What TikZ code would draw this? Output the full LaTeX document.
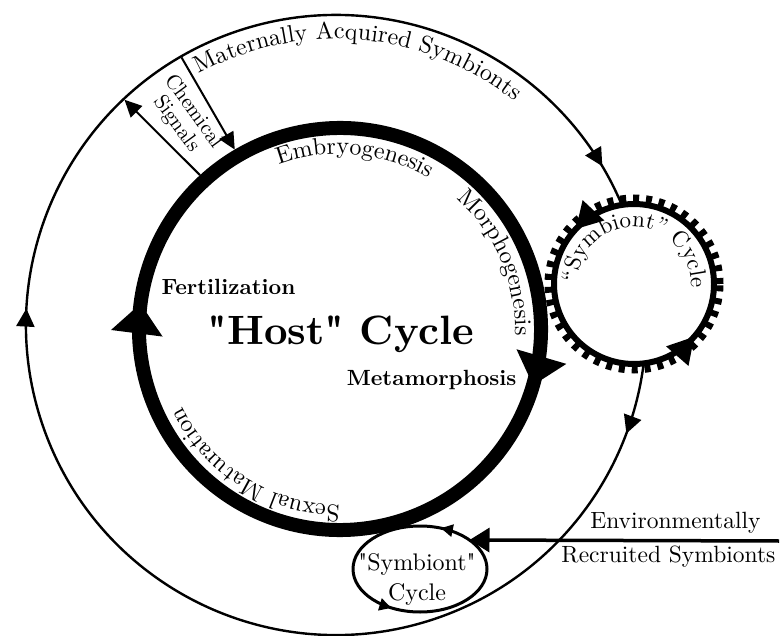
\documentclass[tikz,border=0pt]{standalone}
\usepackage{fontspec}
\setmainfont{lmroman10-regular.otf}[BoldFont=lmroman10-bold.otf, Ligatures=TeXOff]
\usetikzlibrary{arrows.meta,calc,decorations.markings,decorations.text}
\tikzset{
  ring/.style={line width=14pt},
  loopline/.style={line width=2.4pt},
  sigline/.style={line width=2pt},
  hostheads/.style={decoration={markings,
      mark=at position 0.048 with {\arrow{Triangle[length=30pt,width=50pt]}},
      mark=at position 0.573 with {\arrow{Triangle[length=30pt,width=50pt]}}},
    postaction={decorate}},
  loopheads/.style={decoration={markings,
      mark=at position 0.064 with {\arrow{Triangle[length=18pt,width=18pt]}},
      mark=at position 0.470 with {\arrow{Triangle[length=18pt,width=18pt]}},
      mark=at position 0.6125 with {\arrow{Triangle[length=18pt,width=18pt]}}},
    postaction={decorate}},
  symheads/.style={decoration={markings,
      mark=at position 0.38 with {\arrow{Triangle[length=26pt,width=28pt]}},
      mark=at position 0.886 with {\arrow{Triangle[length=26pt,width=28pt]}}},
    postaction={decorate}},
  smallheads/.style={decoration={markings,
      mark=at position 0.19 with {\arrow{Triangle[length=12pt,width=12pt]}},
      mark=at position 0.667 with {\arrow{Triangle[length=12pt,width=12pt]}}},
    postaction={decorate}},
  arctext/.style={decorate, decoration={text along path, text align=center,
      text={|\fontsize{24}{24}\selectfont|#1}}},
}
\begin{document}
\begin{tikzpicture}[x=1pt,y=1pt]
  \useasboundingbox (0,0) rectangle (781,635);
  \coordinate (hc) at (340,306);
  \coordinate (oc) at (336,310);
  \coordinate (sc) at (634,351);
  \coordinate (ec) at (420,66);

  \draw[loopline, loopheads] ($(oc)+(200:310)$) arc[start angle=200, end angle=-160, radius=310];
  \draw[ring, hostheads] ($(hc)+(190:201)$) arc[start angle=190, end angle=-170, radius=201];

  \coordinate (c1h) at ($(hc)+(132.3:208)$);
  \coordinate (c1o) at ($(oc)+(133.2:309)$);
  \coordinate (c2o) at ($(oc)+(120:309)$);
  \coordinate (c2h) at ($(hc)+(120.4:208)$);
  \draw[sigline, -{Triangle[length=17pt,width=16pt]}] (c1h) -- (c1o);
  \draw[sigline, -{Triangle[length=17pt,width=16pt]}] (c2o) -- (c2h);
  \node[rotate=-54, align=center, font=\fontsize{21}{21}\selectfont] (chem) at (185,517) {Chemical\\Signals};

  \filldraw[fill=white, line width=6pt, symheads] ($(sc)+(0:80)$) arc[start angle=0, end angle=360, radius=80];
  \draw[line width=7pt, dash pattern=on 6pt off 7pt] (sc) circle[radius=86];

  \draw[line width=3pt, smallheads] ($(ec)+(0:67 and 43)$) arc[start angle=0, end angle=360, x radius=67, y radius=43];
  \coordinate (envL) at ($(ec)+(49.5,29)$);
  \coordinate (envR) at (779,94);
  \draw[line width=3.5pt, -{Triangle[length=20pt,width=24pt]}] (envR) -- (envL);

  \path[arctext={Maternally Acquired Symbionts}] ($(oc)+(125:286)$) arc[start angle=125, end angle=45, radius=286];
  \path[arctext={Embryogenesis}] ($(hc)+(122:175)$) arc[start angle=122, end angle=48, radius=175];
  \path[arctext={Morphogenesis}] ($(hc)+(60:175)$) arc[start angle=60, end angle=-14, radius=175];
  \path[arctext={Sexual Maturation}] ($(hc)+(285:176)$) arc[start angle=285, end angle=191, radius=176];
  \path[decorate, decoration={text along path, text align=center,
      text={|\fontsize{23}{23}\selectfont|“Symbiont” Cycle}}]
    ($(sc)+(199:57)$) arc[start angle=199, end angle=-25, radius=57];

  \node[font=\fontsize{22}{22}\selectfont\bfseries, anchor=base west] (fert) at (158,340) {Fertilization};
  \node[font=\fontsize{41}{41}\selectfont\bfseries, anchor=base] (host) at (341,290) {"Host" Cycle};
  \node[font=\fontsize{22}{22}\selectfont\bfseries, anchor=base east] (meta) at (520,250) {Metamorphosis};
  \node[align=center, font=\fontsize{24}{30}\selectfont] (symsmall) at (417,56) {"Symbiont"\\Cycle};
  \node[font=\fontsize{23.5}{23.5}\selectfont, anchor=base east] (env1) at (764,107) {Environmentally};
  \node[font=\fontsize{23.5}{23.5}\selectfont, anchor=base east] (env2) at (779,73) {Recruited Symbionts};
\end{tikzpicture}
\end{document}
